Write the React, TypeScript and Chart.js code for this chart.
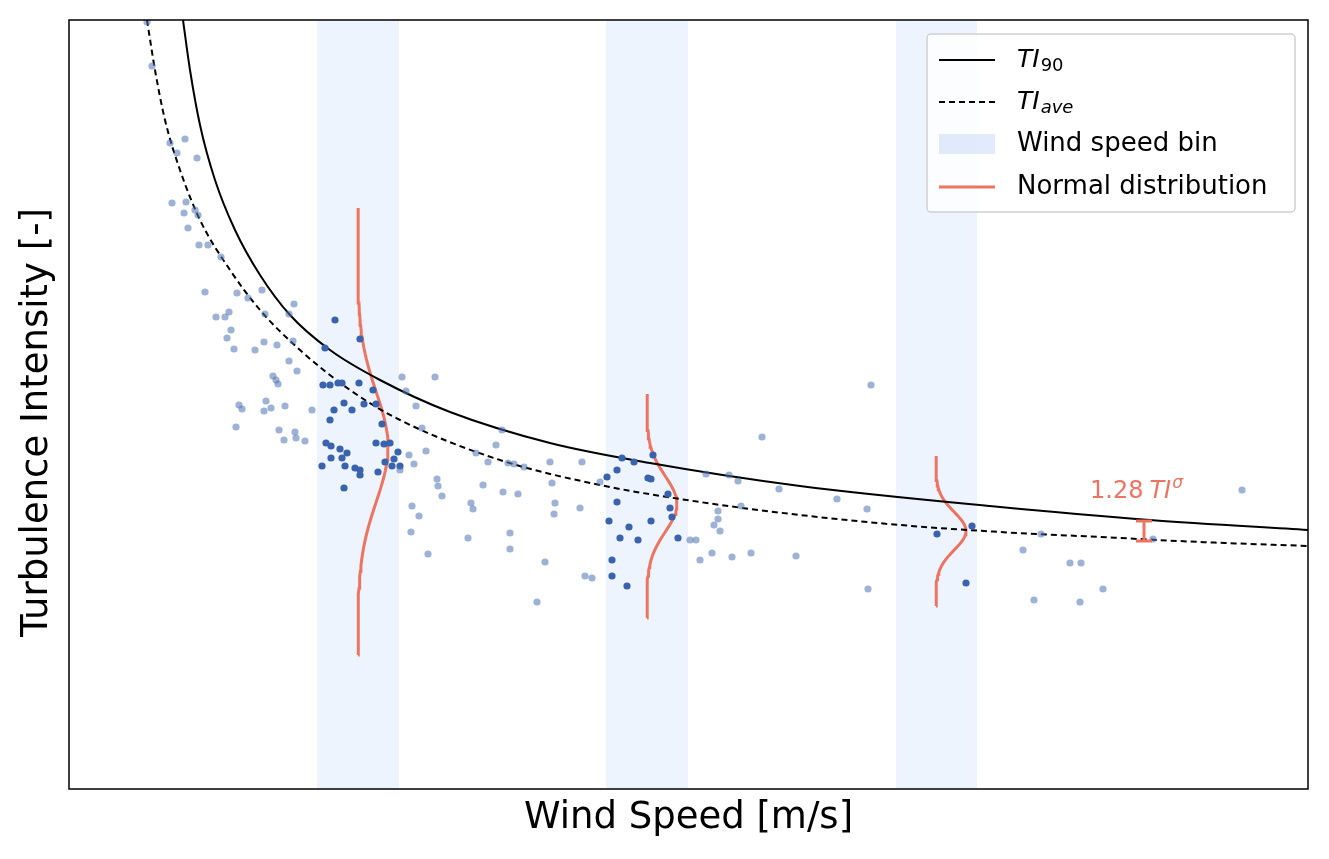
import { useEffect, useRef } from 'react'
import { Chart, registerables } from 'chart.js'

Chart.register(...registerables)

// wind speed bins [from, to]
const bins: [number, number][] = [
  [2.48, 3.3],
  [5.37, 6.19],
  [8.27, 9.08],
]

const ti90: [number, number][] = [
  [1.14, 0.769], [1.21, 0.719], [1.31, 0.664], [1.46, 0.609], [1.66, 0.559], [1.91, 0.514],
  [2.21, 0.474], [2.61, 0.439], [3.11, 0.409], [3.81, 0.377], [4.81, 0.346], [5.81, 0.326],
  [7.31, 0.303], [9.31, 0.282], [10.81, 0.269], [12.39, 0.259],
]

const tiAve: [number, number][] = [
  [0.78, 0.769], [0.86, 0.719], [0.96, 0.669], [1.11, 0.619], [1.31, 0.569], [1.61, 0.519],
  [1.91, 0.479], [2.31, 0.439], [2.81, 0.399], [3.31, 0.369], [4.31, 0.329], [5.31, 0.304],
  [6.31, 0.287], [7.31, 0.274], [8.31, 0.264], [9.31, 0.257], [10.31, 0.252], [11.31, 0.247],
  [12.39, 0.243],
]

const lightPts: [number, number][] = [
  [0.78, 0.767], [0.83, 0.723], [1.01, 0.646], [1.16, 0.65], [1.08, 0.636], [1.28, 0.631],
  [1.03, 0.586], [1.17, 0.587], [1.15, 0.576], [1.26, 0.579], [1.29, 0.574], [1.19, 0.561],
  [1.3, 0.544], [1.39, 0.544], [1.52, 0.532], [1.36, 0.497], [1.68, 0.496], [1.79, 0.491],
  [1.93, 0.499], [1.47, 0.472], [1.56, 0.472], [1.6, 0.477], [1.62, 0.459], [1.58, 0.451],
  [1.65, 0.44], [1.96, 0.475], [1.86, 0.439], [2.08, 0.444], [2.25, 0.485], [2.2, 0.475],
  [2.24, 0.448], [2.2, 0.428], [2.28, 0.418], [1.95, 0.447], [2.04, 0.413], [2.07, 0.409],
  [2.09, 0.405], [1.97, 0.388], [2.02, 0.381], [1.7, 0.384], [1.73, 0.38], [1.95, 0.378],
  [2.16, 0.383], [1.67, 0.362], [2.1, 0.359], [2.15, 0.349], [2.26, 0.357], [2.27, 0.351],
  [2.36, 0.348], [2.43, 0.379], [3.33, 0.412], [3.37, 0.398], [3.66, 0.412], [3.47, 0.383],
  [3.53, 0.361], [3.57, 0.338], [3.4, 0.334], [3.45, 0.325], [3.31, 0.319], [3.68, 0.31],
  [3.69, 0.303], [3.73, 0.293], [3.43, 0.283], [3.5, 0.273], [3.42, 0.257], [3.59, 0.235],
  [3.99, 0.251], [4.02, 0.286], [4.04, 0.28], [4.07, 0.336], [4.14, 0.304], [4.19, 0.327],
  [4.27, 0.344], [4.33, 0.359], [4.34, 0.297], [4.39, 0.326], [4.45, 0.325], [4.41, 0.256],
  [4.41, 0.24], [4.49, 0.295], [4.55, 0.322], [4.81, 0.327], [4.83, 0.306], [4.85, 0.275],
  [4.86, 0.286], [4.76, 0.227], [4.68, 0.187], [5.11, 0.281], [5.16, 0.213], [5.23, 0.211],
  [5.13, 0.327], [5.31, 0.307], [6.21, 0.249], [6.27, 0.249], [6.31, 0.229], [6.37, 0.315],
  [6.43, 0.236], [6.45, 0.264], [6.49, 0.278], [6.49, 0.27], [6.51, 0.258], [6.6, 0.314],
  [6.63, 0.232], [6.69, 0.308], [6.72, 0.283], [6.82, 0.236], [6.93, 0.352], [7.1, 0.3],
  [7.27, 0.233], [7.68, 0.29], [7.98, 0.28], [7.99, 0.2], [8.02, 0.404], [9.54, 0.239],
  [9.65, 0.189], [9.72, 0.255], [10.01, 0.226], [10.12, 0.226], [10.11, 0.187], [10.34, 0.2],
  [10.84, 0.25], [11.73, 0.299],
]

const darkPts: [number, number][] = [
  [2.66, 0.469], [2.91, 0.45], [2.56, 0.441], [2.54, 0.404], [2.61, 0.404], [2.69, 0.406],
  [2.73, 0.406], [2.9, 0.406], [3.04, 0.399], [2.75, 0.386], [2.83, 0.379], [2.95, 0.385],
  [3.07, 0.385], [2.65, 0.379], [2.61, 0.369], [3.13, 0.365], [3.07, 0.346], [3.15, 0.345],
  [3.21, 0.346], [2.57, 0.346], [2.62, 0.343], [2.71, 0.34], [2.78, 0.336], [2.73, 0.331],
  [2.62, 0.331], [3.29, 0.337], [3.25, 0.33], [3.16, 0.327], [3.23, 0.323], [3.31, 0.323],
  [2.53, 0.323], [2.76, 0.323], [2.86, 0.321], [2.91, 0.319], [2.91, 0.314], [3.09, 0.317],
  [2.75, 0.301],
  [5.38, 0.312], [5.48, 0.319], [5.53, 0.331], [5.65, 0.327], [5.84, 0.334], [5.79, 0.311],
  [5.82, 0.31], [5.99, 0.295], [5.48, 0.287], [6.01, 0.281], [6.03, 0.272], [5.4, 0.268],
  [5.6, 0.262], [5.82, 0.268], [5.51, 0.251], [5.69, 0.249], [6.09, 0.251], [5.43, 0.229],
  [5.43, 0.213], [5.58, 0.203],
  [8.68, 0.255], [9.03, 0.263], [8.97, 0.206],
]

// normal distribution per bin: baseline x, mean, sigma, range, amplitude
const normals = [
  { base: 2.89, mu: 0.342, sigma: 0.055, lo: 0.134, hi: 0.581, amp: 0.3 },
  { base: 5.78, mu: 0.285, sigma: 0.028, lo: 0.171, hi: 0.395, amp: 0.3 },
  { base: 8.67, mu: 0.258, sigma: 0.019, lo: 0.183, hi: 0.333, amp: 0.3 },
]

const sigmaBar = { x: 10.75, lo: 0.248, hi: 0.268 }

const RED = '#ee7461'
const BIN = 'rgba(218,230,250,0.45)'

function gaussCurve(n: typeof normals[0]) {
  const pts: { x: number; y: number }[] = []
  for (let i = 0; i <= 80; i++) {
    const y = n.lo + ((n.hi - n.lo) * i) / 80
    pts.push({ x: n.base + n.amp * Math.exp(-((y - n.mu) ** 2) / (2 * n.sigma ** 2)), y })
  }
  return pts
}

const toXY = (a: [number, number][]) => a.map(([x, y]) => ({ x, y }))

export default function App() {
  const canvasRef = useRef<HTMLCanvasElement>(null)

  useEffect(() => {
    document.body.style.margin = '0'
    if (!canvasRef.current) return
    const font = '"DejaVu Sans", sans-serif'

    const chart = new Chart(canvasRef.current, {
      type: 'scatter',
      data: {
        datasets: [
          { data: toXY(lightPts), pointRadius: 3.6, pointBorderWidth: 0, backgroundColor: 'rgba(76,114,176,0.55)' },
          { data: toXY(darkPts), pointRadius: 3.6, pointBorderWidth: 0, backgroundColor: '#3a63ad' },
          { type: 'line', data: toXY(ti90), borderColor: '#000', borderWidth: 2, pointRadius: 0, cubicInterpolationMode: 'monotone' },
          { type: 'line', data: toXY(tiAve), borderColor: '#000', borderWidth: 2, borderDash: [6, 4], pointRadius: 0, cubicInterpolationMode: 'monotone' },
          ...normals.map((n) => ({
            type: 'line' as const,
            data: gaussCurve(n),
            borderColor: RED,
            borderWidth: 3,
            pointRadius: 0,
          })),
        ],
      },
      options: {
        animation: false,
        responsive: false,
        layout: { padding: { left: 69, top: 20, right: 21, bottom: 70 } },
        plugins: { legend: { display: false }, tooltip: { enabled: false } },
        scales: {
          x: { type: 'linear', min: 0, max: 12.39, display: false },
          y: { type: 'linear', min: 0, max: 0.769, display: false },
        },
      },
      plugins: [
        {
          id: 'decor',
          beforeDatasetsDraw: (c) => {
            const { ctx, chartArea: a, scales } = c
            ctx.save()
            ctx.fillStyle = BIN
            bins.forEach(([f, t]) => {
              const x0 = scales.x.getPixelForValue(f)
              const x1 = scales.x.getPixelForValue(t)
              ctx.fillRect(x0, a.top, x1 - x0, a.bottom - a.top)
            })
            ctx.restore()
          },
          afterDatasetsDraw: (c) => {
            const { ctx, chartArea: a, scales } = c
            ctx.save()
            // sigma bar
            const bx = scales.x.getPixelForValue(sigmaBar.x)
            const y0 = scales.y.getPixelForValue(sigmaBar.lo)
            const y1 = scales.y.getPixelForValue(sigmaBar.hi)
            ctx.strokeStyle = RED
            ctx.lineWidth = 3
            ctx.beginPath()
            ctx.moveTo(bx, y0); ctx.lineTo(bx, y1)
            ctx.moveTo(bx - 8, y0); ctx.lineTo(bx + 8, y0)
            ctx.moveTo(bx - 8, y1); ctx.lineTo(bx + 8, y1)
            ctx.stroke()
            ctx.fillStyle = RED
            ctx.textBaseline = 'alphabetic'
            ctx.font = `24px ${font}`
            let tx = bx - 54
            const ty = y1 - 23
            ctx.fillText('1.28', tx, ty)
            tx += ctx.measureText('1.28').width + 6
            ctx.font = `italic 24px ${font}`
            ctx.fillText('TI', tx, ty)
            tx += ctx.measureText('TI').width
            ctx.font = `italic 17px ${font}`
            ctx.fillText('σ', tx + 1, ty - 10)

            // frame
            ctx.strokeStyle = '#000'
            ctx.lineWidth = 1.5
            ctx.strokeRect(a.left, a.top, a.right - a.left, a.bottom - a.top)

            // axis titles
            ctx.fillStyle = '#000'
            ctx.font = `37px ${font}`
            ctx.textAlign = 'center'
            ctx.textBaseline = 'middle'
            ctx.fillText('Wind Speed [m/s]', (a.left + a.right) / 2, 818)
            ctx.save()
            ctx.translate(37, (a.top + a.bottom) / 2 + 18)
            ctx.rotate(-Math.PI / 2)
            ctx.fillText('Turbulence Intensity [-]', 0, 0)
            ctx.restore()

            // legend
            const lx = 927, ly = 34, lw = 368, lh = 178
            ctx.fillStyle = 'rgba(255,255,255,0.8)'
            ctx.strokeStyle = '#d0d0d0'
            ctx.lineWidth = 1.5
            ctx.beginPath()
            ctx.roundRect(lx, ly, lw, lh, 4)
            ctx.fill()
            ctx.stroke()
            const rows = [60, 102, 144, 187]
            const sx = 939, ex = 995, textX = 1017
            ctx.textAlign = 'left'
            ctx.strokeStyle = '#000'
            ctx.lineWidth = 2
            ctx.beginPath(); ctx.moveTo(sx, rows[0]); ctx.lineTo(ex, rows[0]); ctx.stroke()
            ctx.setLineDash([6, 4])
            ctx.beginPath(); ctx.moveTo(sx, rows[1]); ctx.lineTo(ex, rows[1]); ctx.stroke()
            ctx.setLineDash([])
            ctx.fillStyle = 'rgba(218,230,250,0.8)'
            ctx.fillRect(sx, rows[2] - 10, ex - sx, 20)
            ctx.strokeStyle = RED
            ctx.lineWidth = 3
            ctx.beginPath(); ctx.moveTo(sx, rows[3]); ctx.lineTo(ex, rows[3]); ctx.stroke()

            ctx.fillStyle = '#000'
            const sub = (y: number, s: string) => {
              ctx.font = `italic 25px ${font}`
              ctx.fillText('TI', textX, y)
              const w = ctx.measureText('TI').width
              ctx.font = (s === 'ave' ? 'italic ' : '') + `18px ${font}`
              ctx.fillText(s, textX + w + 1, y + 6)
            }
            sub(rows[0], '90')
            sub(rows[1], 'ave')
            ctx.font = `26px ${font}`
            ctx.fillText('Wind speed bin', textX, rows[2])
            ctx.fillText('Normal distribution', textX, rows[3])
            ctx.restore()
          },
        },
      ],
    })
    return () => chart.destroy()
  }, [])

  return <canvas ref={canvasRef} width={1329} height={859} style={{ display: 'block' }} />
}
